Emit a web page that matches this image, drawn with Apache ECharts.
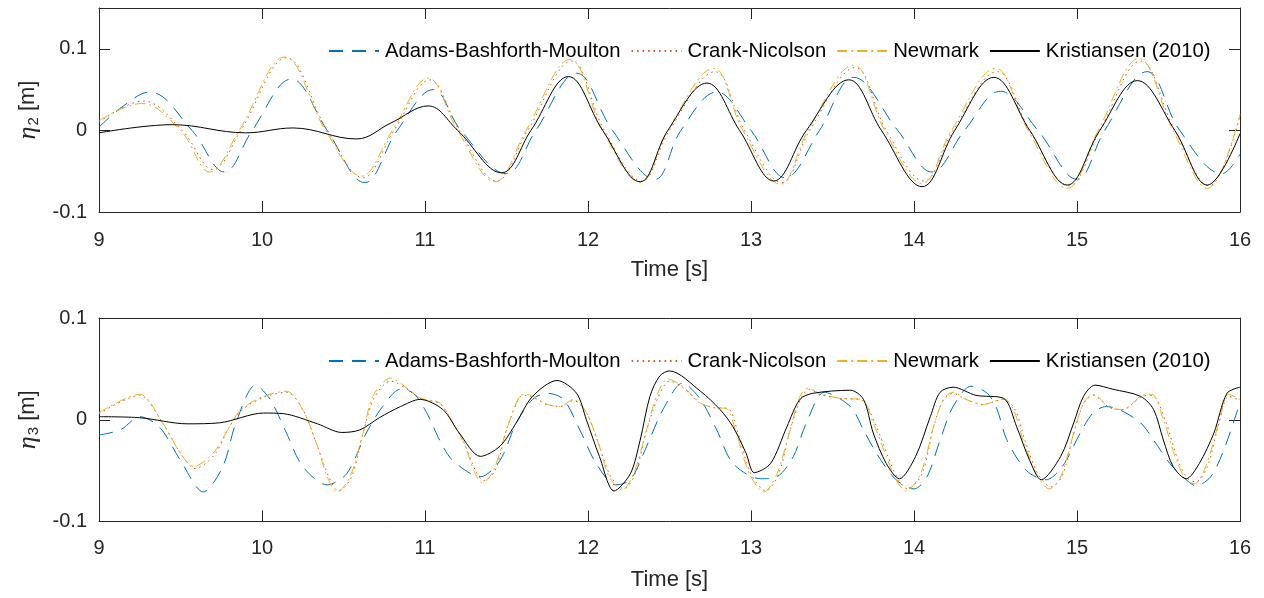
<!DOCTYPE html>
<html><head><meta charset="utf-8">
<script src="https://cdn.jsdelivr.net/npm/echarts@6/dist/echarts.min.js"></script>
<style>html,body{margin:0;padding:0;background:#fff}#c{width:1264px;height:598px}</style>
</head><body><div id="c"></div><script>
// ---------- names ----------
const seriesNames = ['Adams-Bashforth-Moulton', 'Crank-Nicolson', 'Newmark', 'Kristiansen (2010)'];
const xTicks = [9, 10, 11, 12, 13, 14, 15, 16];

// ---------- eta_2 (top panel) ----------
const abm2T = [9.00, 9.15, 9.31, 9.57, 9.77, 9.94, 10.18, 10.40, 10.63, 10.83, 11.05, 11.22, 11.50, 11.68, 11.93, 12.15, 12.41, 12.57, 12.79, 13.00, 13.21, 13.42, 13.63, 13.90, 14.11, 14.31, 14.53, 14.76, 15.00, 15.17, 15.43, 15.63, 15.89, 16.00];
const abm2V = [0.004, 0.030, 0.047, 0.000, -0.051, 0.000, 0.063, 0.000, -0.064, 0.000, 0.050, 0.000, -0.053, 0.000, 0.070, 0.000, -0.060, 0.000, 0.047, 0.000, -0.058, 0.000, 0.065, 0.000, -0.051, 0.000, 0.048, 0.000, -0.060, 0.000, 0.072, 0.000, -0.053, -0.029];

const cn2T = [9.00, 9.27, 9.51, 9.70, 9.87, 10.15, 10.40, 10.62, 10.81, 11.03, 11.21, 11.44, 11.63, 11.90, 12.10, 12.33, 12.50, 12.78, 12.96, 13.19, 13.36, 13.64, 13.83, 14.06, 14.24, 14.51, 14.71, 14.95, 15.14, 15.39, 15.60, 15.81, 16.00];
const cn2V = [0.010, 0.036, 0.000, -0.048, 0.000, 0.089, 0.000, -0.058, 0.000, 0.062, 0.000, -0.062, 0.000, 0.085, 0.000, -0.062, 0.000, 0.072, 0.000, -0.064, 0.000, 0.077, 0.000, -0.062, 0.000, 0.072, 0.000, -0.068, 0.000, 0.085, 0.000, -0.068, 0.018];

const nm2T = [9.00, 9.26, 9.50, 9.68, 9.86, 10.14, 10.39, 10.61, 10.80, 11.02, 11.20, 11.43, 11.62, 11.89, 12.09, 12.32, 12.49, 12.77, 12.95, 13.18, 13.35, 13.63, 13.82, 14.05, 14.23, 14.50, 14.70, 14.94, 15.13, 15.38, 15.59, 15.80, 16.00];
const nm2V = [0.012, 0.033, 0.000, -0.051, 0.000, 0.090, 0.000, -0.056, 0.000, 0.064, 0.000, -0.063, 0.000, 0.087, 0.000, -0.064, 0.000, 0.076, 0.000, -0.066, 0.000, 0.080, 0.000, -0.065, 0.000, 0.076, 0.000, -0.071, 0.000, 0.088, 0.000, -0.071, 0.020];

const kr2T = [9.00, 9.45, 9.90, 10.19, 10.58, 10.79, 11.02, 11.20, 11.47, 11.65, 11.88, 12.09, 12.32, 12.49, 12.73, 12.93, 13.14, 13.34, 13.60, 13.80, 14.05, 14.25, 14.49, 14.71, 14.94, 15.14, 15.37, 15.60, 15.80, 16.00];
const kr2V = [-0.003, 0.007, -0.003, 0.003, -0.0105, 0.009, 0.030, 0.000, -0.052, 0.000, 0.066, 0.000, -0.063, 0.000, 0.058, 0.000, -0.062, 0.000, 0.062, 0.000, -0.069, 0.000, 0.065, 0.000, -0.067, 0.000, 0.061, 0.000, -0.067, -0.004];

// ---------- eta_3 (bottom panel) ----------
const abm3T = [9.00, 9.13, 9.25, 9.37, 9.50, 9.64, 9.76, 9.84, 9.96, 10.05, 10.15, 10.25, 10.40, 10.52, 10.64, 10.74, 10.85, 10.93, 11.01, 11.09, 11.17, 11.34, 11.46, 11.56, 11.66, 11.75, 11.85, 11.95, 12.05, 12.17, 12.26, 12.36, 12.46, 12.58, 12.69, 12.79, 12.89, 13.06, 13.16, 13.26, 13.34, 13.45, 13.61, 13.69, 13.77, 13.89, 14.00, 14.08, 14.16, 14.24, 14.35, 14.45, 14.51, 14.57, 14.69, 14.81, 14.91, 15.02, 15.10, 15.18, 15.26, 15.39, 15.47, 15.57, 15.67, 15.73, 15.82, 15.90, 16.00];
const abm3V = [-0.015, -0.010, 0.003, -0.007, -0.040, -0.071, -0.046, -0.003, 0.034, 0.020, -0.013, -0.046, -0.064, -0.053, -0.013, 0.013, 0.030, 0.026, 0.007, -0.020, -0.040, -0.056, -0.040, -0.003, 0.020, 0.026, 0.020, -0.010, -0.043, -0.064, -0.059, -0.026, 0.010, 0.036, 0.020, -0.010, -0.043, -0.058, -0.056, -0.036, -0.003, 0.027, 0.013, -0.010, -0.033, -0.059, -0.068, -0.056, -0.020, 0.013, 0.033, 0.026, 0.010, -0.020, -0.050, -0.059, -0.046, -0.013, 0.007, 0.013, 0.010, -0.003, -0.020, -0.043, -0.059, -0.065, -0.056, -0.030, 0.017];

const nm3T = [9.00, 9.25, 9.39, 9.50, 9.58, 9.70, 9.80, 9.87, 10.01, 10.15, 10.25, 10.34, 10.40, 10.46, 10.54, 10.62, 10.68, 10.79, 10.89, 10.97, 11.09, 11.15, 11.24, 11.30, 11.35, 11.42, 11.50, 11.58, 11.62, 11.75, 11.83, 11.91, 11.99, 12.07, 12.13, 12.21, 12.28, 12.36, 12.42, 12.49, 12.58, 12.69, 12.77, 12.85, 12.91, 12.99, 13.08, 13.16, 13.24, 13.30, 13.35, 13.42, 13.55, 13.68, 13.75, 13.83, 13.89, 13.95, 14.04, 14.12, 14.18, 14.24, 14.32, 14.42, 14.55, 14.61, 14.67, 14.75, 14.83, 14.90, 14.98, 15.04, 15.10, 15.20, 15.28, 15.40, 15.46, 15.53, 15.61, 15.67, 15.72, 15.79, 15.87, 15.93, 16.00];
const nm3V = [0.007, 0.025, -0.003, -0.033, -0.046, -0.033, -0.007, 0.010, 0.023, 0.028, 0.010, -0.026, -0.056, -0.071, -0.056, -0.013, 0.023, 0.041, 0.031, 0.0215, 0.0165, 0.003, -0.023, -0.050, -0.062, -0.050, -0.010, 0.023, 0.025, 0.015, 0.013, 0.020, 0.007, -0.026, -0.056, -0.069, -0.053, -0.010, 0.023, 0.040, 0.033, 0.0165, 0.012, 0.011, -0.013, -0.053, -0.071, -0.053, -0.010, 0.023, 0.031, 0.026, 0.021, 0.020, -0.003, -0.036, -0.059, -0.070, -0.053, -0.007, 0.020, 0.027, 0.020, 0.015, 0.0205, 0.010, -0.020, -0.053, -0.068, -0.056, -0.013, 0.0165, 0.025, 0.012, 0.010, 0.024, 0.025, 0.000, -0.040, -0.059, -0.063, -0.046, -0.003, 0.025, 0.020];

const cn3T = [9.00, 9.25, 9.39, 9.50, 9.59, 9.71, 9.80, 9.88, 10.01, 10.15, 10.25, 10.34, 10.41, 10.47, 10.55, 10.62, 10.69, 10.79, 10.89, 10.97, 11.09, 11.15, 11.24, 11.31, 11.36, 11.43, 11.50, 11.58, 11.62, 11.75, 11.83, 11.91, 11.99, 12.07, 12.14, 12.22, 12.29, 12.36, 12.43, 12.50, 12.58, 12.69, 12.77, 12.86, 12.92, 13.00, 13.09, 13.17, 13.24, 13.31, 13.36, 13.42, 13.55, 13.68, 13.76, 13.84, 13.90, 13.96, 14.05, 14.12, 14.18, 14.24, 14.32, 14.42, 14.55, 14.62, 14.68, 14.76, 14.84, 14.91, 14.98, 15.04, 15.10, 15.20, 15.28, 15.40, 15.46, 15.54, 15.62, 15.68, 15.73, 15.80, 15.87, 15.93, 16.00];
const cn3V = [0.006, 0.024, -0.003, -0.033, -0.048, -0.034, -0.007, 0.010, 0.022, 0.027, 0.010, -0.026, -0.056, -0.070, -0.056, -0.013, 0.022, 0.038, 0.030, 0.021, 0.016, 0.003, -0.023, -0.050, -0.060, -0.050, -0.010, 0.022, 0.024, 0.015, 0.013, 0.019, 0.007, -0.026, -0.056, -0.068, -0.053, -0.010, 0.022, 0.038, 0.032, 0.016, 0.012, 0.011, -0.013, -0.053, -0.070, -0.053, -0.010, 0.022, 0.030, 0.025, 0.021, 0.019, -0.003, -0.036, -0.058, -0.068, -0.053, -0.007, 0.019, 0.026, 0.020, 0.015, 0.020, 0.010, -0.020, -0.053, -0.066, -0.055, -0.013, 0.016, 0.024, 0.012, 0.010, 0.023, 0.024, 0.000, -0.040, -0.058, -0.061, -0.046, -0.004, 0.023, 0.019];

const kr3T = [9.00, 9.25, 9.54, 9.74, 10.01, 10.13, 10.34, 10.49, 10.60, 10.72, 10.85, 10.97, 11.11, 11.21, 11.34, 11.46, 11.56, 11.66, 11.81, 11.93, 11.99, 12.07, 12.16, 12.26, 12.32, 12.38, 12.44, 12.50, 12.69, 12.81, 12.89, 12.97, 13.02, 13.12, 13.22, 13.30, 13.38, 13.61, 13.69, 13.75, 13.83, 13.91, 14.01, 14.10, 14.16, 14.24, 14.38, 14.55, 14.63, 14.71, 14.78, 14.90, 14.98, 15.04, 15.11, 15.22, 15.39, 15.47, 15.53, 15.59, 15.67, 15.75, 15.84, 15.92, 16.00];
const kr3V = [0.003, 0.002, -0.004, -0.003, 0.0066, 0.006, -0.004, -0.0125, -0.010, 0.002, 0.013, 0.020, 0.010, -0.013, -0.036, -0.026, -0.003, 0.023, 0.0386, 0.026, 0.000, -0.036, -0.070, -0.053, -0.020, 0.023, 0.043, 0.048, 0.028, 0.010, -0.007, -0.033, -0.052, -0.043, -0.007, 0.020, 0.026, 0.029, 0.020, -0.013, -0.043, -0.058, -0.036, 0.003, 0.027, 0.032, 0.024, 0.021, -0.007, -0.040, -0.059, -0.036, -0.003, 0.023, 0.034, 0.030, 0.023, 0.010, -0.020, -0.046, -0.058, -0.043, -0.013, 0.026, 0.032];

// ---------- styling ----------
const FONT = '"Liberation Sans", Arial, Helvetica, sans-serif';
const AX = '#262626';
const COLORS = ['#0072BD', '#D95319', '#EDB120', '#000000'];
const DASH = [[14, 9], [1.5, 4], [10, 4, 2, 4], 'solid'];

function pair(T, V) { return T.map((t, i) => [t, V[i]]); }
function lbl(v) {
  const r = Math.round(v * 10) / 10;
  if (Math.abs(r - v) > 1e-9) return '';
  return r === 0 ? '0' : String(r);
}

function xPair(g, margin) {
  const common = { gridIndex: g, type: 'value', min: 9, max: 16, interval: 1,
    splitLine: { show: false },
    axisLine: { show: true, onZero: false, lineStyle: { color: AX, width: 1 } },
    axisTick: { show: true, inside: true, length: 11, lineStyle: { color: AX, width: 1 } } };
  return [
    Object.assign({}, common, { position: 'bottom',
      axisLabel: { show: true, color: AX, fontSize: 20, fontFamily: FONT, margin: margin },
      name: 'Time [s]', nameLocation: 'middle', nameGap: 47,
      nameTextStyle: { color: AX, fontSize: 22, fontFamily: FONT } }),
    Object.assign({}, common, { position: 'top', axisLabel: { show: false } })
  ];
}
function yPair(g, min, max, sub) {
  const common = { gridIndex: g, type: 'value', min: min, max: max, interval: 0.1,
    splitLine: { show: false },
    axisLine: { show: true, onZero: false, lineStyle: { color: AX, width: 1 } },
    axisTick: { show: true, inside: true, length: 11, lineStyle: { color: AX, width: 1 } } };
  return [
    Object.assign({}, common, { position: 'left',
      axisLabel: { show: true, color: AX, fontSize: 20, fontFamily: FONT, margin: 12, formatter: lbl },
      name: '{e|η}{s|' + sub + '}{n| [m]}', nameLocation: 'middle', nameGap: 55,
      nameTextStyle: { color: AX, fontSize: 22, fontFamily: FONT,
        rich: {
          e: { fontFamily: '"Liberation Serif", "DejaVu Serif", serif', fontStyle: 'italic', fontSize: 26, color: AX },
          s: { fontSize: 15, fontFamily: FONT, color: AX, padding: [12, 0, 0, 1] },
          n: { fontSize: 22, fontFamily: FONT, color: AX }
        } } }),
    Object.assign({}, common, { position: 'right', axisLabel: { show: false } })
  ];
}

function mk(idx, T, V, xi, yi, sm) {
  return { name: seriesNames[idx], type: 'line', xAxisIndex: xi, yAxisIndex: yi,
    data: pair(T, V), showSymbol: false, symbol: 'none', smooth: sm, animation: false,
    lineStyle: { color: COLORS[idx], width: 1, type: DASH[idx] },
    itemStyle: { color: COLORS[idx] }, z: 2 + idx };
}

function legend(top) {
  return { top: top, left: 328, padding: 0, orient: 'horizontal', itemWidth: 50, itemHeight: 14, itemGap: 10,
    selectedMode: false, data: seriesNames,
    itemStyle: { opacity: 0, borderWidth: 0 },
    textStyle: { color: '#000', fontSize: 20.3, fontFamily: FONT, padding: [0, 0, 0, 1] } };
}

const chart = echarts.init(document.getElementById('c'), null, { renderer: 'canvas' });
chart.setOption({
  backgroundColor: '#ffffff',
  animation: false,
  grid: [
    { left: 99, right: 24, top: 8, height: 204 },
    { left: 99, right: 24, top: 318, height: 203.5 }
  ],
  xAxis: xPair(0, 18).concat(xPair(1, 17)),
  yAxis: yPair(0, -0.1, 0.15, '2').concat(yPair(1, -0.1, 0.1, '3')),
  legend: [legend(41), legend(351)],
  series: [
    mk(0, abm2T, abm2V, 0, 0, 0.38), mk(1, cn2T, cn2V, 0, 0, 0.38), mk(2, nm2T, nm2V, 0, 0, 0.38), mk(3, kr2T, kr2V, 0, 0, 0.38),
    mk(0, abm3T, abm3V, 2, 2, 0.3), mk(1, cn3T, cn3V, 2, 2, 0.3), mk(2, nm3T, nm3V, 2, 2, 0.3), mk(3, kr3T, kr3V, 2, 2, 0.3)
  ]
});
</script></body></html>
